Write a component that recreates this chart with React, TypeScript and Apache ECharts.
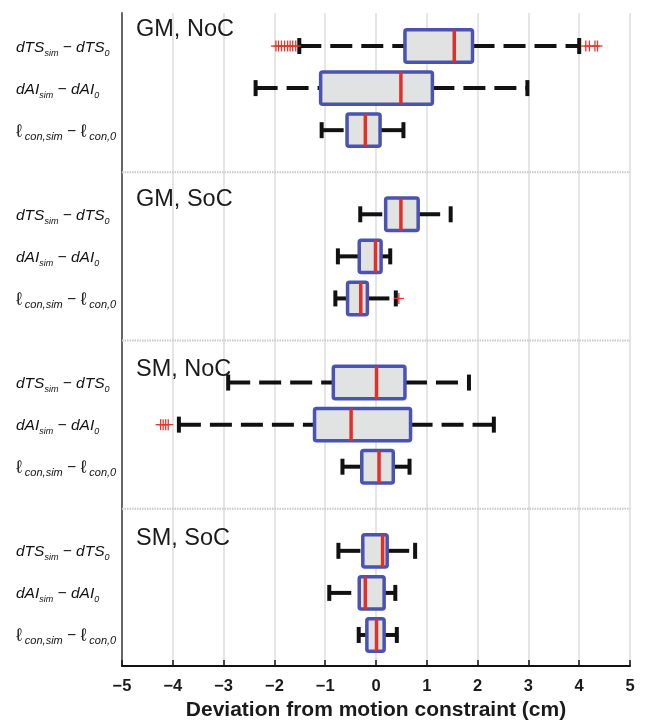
import React, { useEffect, useRef } from 'react';
import * as echarts from 'echarts';

// Panels (top to bottom) and the quantities compared inside each panel
const panelTitles = ['GM, NoC', 'GM, SoC', 'SM, NoC', 'SM, SoC'];
const titleY = [28, 198, 368, 537];
const quantityKeys = ['dTS', 'dAI', 'ell'];

// Box statistics per quantity: [lower whisker, Q1, median, Q3, upper whisker] (cm)
const gmNoC = [
  [-1.51, 0.57, 1.54, 1.9, 4.0],
  [-2.37, -1.09, 0.49, 1.11, 2.98],
  [-1.07, -0.57, -0.21, 0.08, 0.54],
];
const gmSoC = [
  [-0.31, 0.19, 0.49, 0.83, 1.47],
  [-0.75, -0.33, -0.01, 0.1, 0.28],
  [-0.8, -0.56, -0.3, -0.17, 0.39],
];
const smNoC = [
  [-2.91, -0.84, 0.01, 0.57, 1.83],
  [-3.88, -1.21, -0.49, 0.68, 2.32],
  [-0.66, -0.28, 0.06, 0.34, 0.66],
];
const smSoC = [
  [-0.74, -0.26, 0.13, 0.22, 0.77],
  [-0.92, -0.33, -0.21, 0.16, 0.38],
  [-0.34, -0.18, 0.01, 0.16, 0.41],
];
const panelStats = [gmNoC, gmSoC, smNoC, smSoC];

// Outliers: [panel index, quantity index, value]
const outliers = [
  [0, 0, -1.97], [0, 0, -1.92], [0, 0, -1.86], [0, 0, -1.8], [0, 0, -1.74],
  [0, 0, -1.69], [0, 0, -1.64], [0, 0, -1.58],
  [0, 0, 4.13], [0, 0, 4.2], [0, 0, 4.31], [0, 0, 4.36],
  [1, 2, 0.45],
  [2, 1, -4.24], [2, 1, -4.19], [2, 1, -4.14], [2, 1, -4.09],
];

const xTicks = [-5, -4, -3, -2, -1, 0, 1, 2, 3, 4, 5];

// slot layout: 3 rows per panel + one empty slot as separator
const slotsPerPanel = 4;
const slotCount = panelTitles.length * slotsPerPanel - 1;
const slotLabels: string[] = [];
for (let i = 0; i < slotCount; i++) {
  const q = i % slotsPerPanel;
  slotLabels.push(q < quantityKeys.length ? quantityKeys[q] : '');
}
const separatorSlots: number[] = [];
for (let p = 1; p < panelTitles.length; p++) separatorSlots.push(p * slotsPerPanel - 1);

const richLabel: Record<string, string> = {
  dTS: '{m|dTS}{s|sim}{o| − }{m|dTS}{s|0}',
  dAI: '{m|dAI}{s|sim}{o| − }{m|dAI}{s|0}',
  ell: '{l|ℓ}{t| con,sim}{o| − }{l|ℓ}{t| con,0}',
};

const boxData = panelStats.flatMap((stats, p) =>
  stats.map((s, q) => [p * slotsPerPanel + q, ...s])
);
const outlierData = outliers.map(([p, q, v]) => [v, p * slotsPerPanel + q]);

const FONT = '"Liberation Sans", Arial, Helvetica, sans-serif';

export default function App() {
  const ref = useRef<HTMLDivElement>(null);
  useEffect(() => {
    if (!ref.current) return;
    const chart = echarts.init(ref.current, undefined, { renderer: 'svg' });
    const option: any = {
      animation: false,
      grid: [
        { left: 122, right: 16, top: 13, bottom: 54, containLabel: false, outerBoundsMode: 'none' },
        { left: 122, right: 16, top: 25, bottom: 64, containLabel: false, outerBoundsMode: 'none' },
      ],
      xAxis: [
        {
          gridIndex: 0,
          type: 'value',
          min: xTicks[0],
          max: xTicks[xTicks.length - 1],
          interval: 1,
          axisLine: { onZero: false, lineStyle: { color: '#111', width: 2 } },
          axisTick: { show: true, inside: true, length: 6, lineStyle: { color: '#111', width: 1.5 } },
          axisLabel: {
            margin: 10,
            fontSize: 16.5,
            fontWeight: 'bold',
            fontFamily: FONT,
            color: '#1a1a1a',
            formatter: (v: number) => (v < 0 ? '\u2212' + Math.abs(v) : String(v)),
          },
          splitLine: { show: true, lineStyle: { color: '#dcdcdc', width: 1.5 } },
          name: 'Deviation from motion constraint (cm)',
          nameLocation: 'middle',
          nameGap: 32,
          nameTextStyle: { fontSize: 21, fontWeight: 'bold', fontFamily: FONT, color: '#1a1a1a' },
        },
        { gridIndex: 1, type: 'value', min: -5, max: 5, show: false },
      ],
      yAxis: [
        {
          gridIndex: 0,
          type: 'value',
          min: 0,
          max: 1,
          axisLine: { show: true, onZero: false, lineStyle: { color: '#666', width: 2 } },
          axisTick: { show: false },
          axisLabel: { show: false },
          splitLine: { show: false },
        },
        {
          gridIndex: 1,
          type: 'category',
          inverse: true,
          data: slotLabels,
          axisLine: { show: false },
          axisTick: { show: false },
          splitLine: { show: false },
          axisLabel: {
            interval: 0,
            align: 'left',
            margin: 106,
            formatter: (v: string) => richLabel[v] || '',
            rich: {
              m: { fontSize: 15.5, fontStyle: 'italic', fontFamily: FONT, color: '#111', lineHeight: 22 },
              s: { fontSize: 9, fontStyle: 'italic', fontFamily: FONT, color: '#111', verticalAlign: 'bottom', lineHeight: 12 },
              o: { fontSize: 15.5, fontFamily: FONT, color: '#111', lineHeight: 22 },
              l: { fontSize: 18, fontFamily: '"DejaVu Sans", sans-serif', fontWeight: 'lighter', color: '#222', lineHeight: 22 },
              t: { fontSize: 11, fontStyle: 'italic', fontFamily: FONT, color: '#111', verticalAlign: 'bottom', lineHeight: 13 },
            },
          },
        },
      ],
      graphic: panelTitles.map((t, i) => ({
        type: 'text',
        x: 136,
        y: titleY[i],
        z: 10,
        style: { text: t, fontSize: 23.5, fontFamily: FONT, fill: '#1a1a1a', verticalAlign: 'middle', textVerticalAlign: 'middle' },
      })),
      series: [
        {
          type: 'custom',
          xAxisIndex: 1,
          yAxisIndex: 1,
          data: separatorSlots.map((s) => [s]),
          encode: { y: 0 },
          z: 1,
          renderItem: (params: any, api: any) => {
            const s = api.value(0);
            const a = api.coord([-5, s]);
            const b = api.coord([5, s]);
            return {
              type: 'line',
              shape: { x1: a[0], y1: a[1], x2: b[0], y2: b[1] },
              style: { stroke: '#c8c8c8', lineWidth: 2, lineDash: [1.5, 1] },
            };
          },
        },
        {
          type: 'custom',
          xAxisIndex: 1,
          yAxisIndex: 1,
          data: boxData,
          encode: { x: [1, 2, 3, 4, 5], y: 0 },
          z: 3,
          renderItem: (params: any, api: any) => {
            const s = api.value(0);
            const xs = [1, 2, 3, 4, 5].map((i) => api.coord([api.value(i), s])[0]);
            const yc = api.coord([0, s])[1];
            const band = api.size([0, 1])[1];
            const h = band * 0.77;
            const black = '#111';
            return {
              type: 'group',
              children: [
                { type: 'line', shape: { x1: xs[0], y1: yc, x2: xs[1], y2: yc }, style: { stroke: black, lineWidth: 4, lineDash: [22, 9] } },
                { type: 'line', shape: { x1: xs[3], y1: yc, x2: xs[4], y2: yc }, style: { stroke: black, lineWidth: 4, lineDash: [22, 9] } },
                { type: 'line', shape: { x1: xs[0], y1: yc - 8, x2: xs[0], y2: yc + 8 }, style: { stroke: black, lineWidth: 4 } },
                { type: 'line', shape: { x1: xs[4], y1: yc - 8, x2: xs[4], y2: yc + 8 }, style: { stroke: black, lineWidth: 4 } },
                {
                  type: 'rect',
                  shape: { x: xs[1], y: yc - h / 2, width: xs[3] - xs[1], height: h, r: 2 },
                  style: { fill: '#e1e2e2', stroke: '#4a52b2', lineWidth: 3.5 },
                },
                { type: 'line', shape: { x1: xs[2], y1: yc - h / 2, x2: xs[2], y2: yc + h / 2 }, style: { stroke: '#e0302a', lineWidth: 3.5 } },
              ],
            };
          },
        },
        {
          type: 'custom',
          xAxisIndex: 1,
          yAxisIndex: 1,
          data: outlierData,
          encode: { x: 0, y: 1 },
          z: 4,
          renderItem: (params: any, api: any) => {
            const p = api.coord([api.value(0), api.value(1)]);
            const c = '#e2372d';
            return {
              type: 'group',
              children: [
                { type: 'line', shape: { x1: p[0] - 5, y1: p[1], x2: p[0] + 5, y2: p[1] }, style: { stroke: c, lineWidth: 1.3 } },
                { type: 'line', shape: { x1: p[0], y1: p[1] - 5.5, x2: p[0], y2: p[1] + 5.5 }, style: { stroke: c, lineWidth: 1.3 } },
              ],
            };
          },
        },
      ],
    };
    chart.setOption(option);
    return () => chart.dispose();
  }, []);
  return <div ref={ref} style={{ position: 'fixed', left: 0, top: 0, width: 646, height: 720 }} />;
}
